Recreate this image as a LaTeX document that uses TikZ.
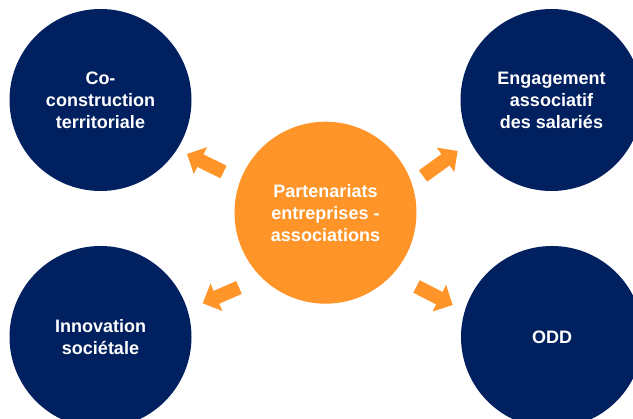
\documentclass[tikz,border=0pt]{standalone}
\usepackage{fontspec}
\setmainfont{Liberation Sans}
\usepackage{xcolor}
\usetikzlibrary{arrows.meta,positioning}
\definecolor{navy}{RGB}{0,32,96}
\definecolor{tangerine}{RGB}{255,148,41}

\begin{document}
\begin{tikzpicture}[x=1pt,y=-1pt]
        \tikzstyle{goal}=[circle, minimum size = 182pt, inner sep = 0pt, fill = navy, text = white, align = center, font = \bfseries\fontsize{18}{22}\selectfont, on grid]
        \tikzstyle{hub}=[goal, fill = tangerine]
        \tikzstyle{push}=[-{Triangle[width=29pt,length=15pt]}, line width = 14pt, draw = tangerine]
        \useasboundingbox (0,0) rectangle (633,419);
        \clip (0,0) rectangle (633,419);
        \node[hub] (part) at (325.5,212.7) {Partenariats\\entreprises -\\associations};
        \node[goal] (coterr) [above left=112.7pt and 225pt of part] {Co-\\construction\\territoriale};
        \node[goal] (engage) [above right=112.7pt and 226pt of part] {Engagement\\associatif\\des salariés};
        \node[goal] (innov) [below left=124.3pt and 225pt of part] {Innovation\\sociétale};
        \node[goal] (odd) [below right=124.3pt and 226.5pt of part] {ODD};
        % arrows between the hub and the four circles
        \coordinate (tls) at (223.5,172);
        \coordinate (tlt) at (187,154);
        \coordinate (trs) at (423,176);
        \coordinate (trt) at (457.7,151);
        \coordinate (bls) at (239,287.5);
        \coordinate (blt) at (202.7,303.3);
        \coordinate (brs) at (416.5,286.5);
        \coordinate (brt) at (452.7,305);
        \draw[push] (tls) -- (tlt);
        \draw[push] (trs) -- (trt);
        \draw[push] (bls) -- (blt);
        \draw[push] (brs) -- (brt);
\end{tikzpicture}
\end{document}
